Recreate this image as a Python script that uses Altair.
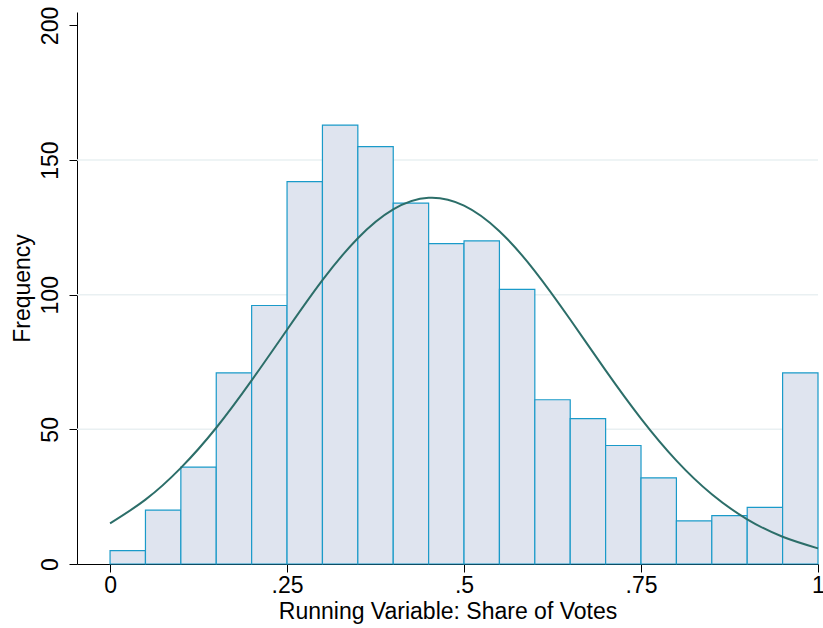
import altair as alt
import pandas as pd

# Histogram bins (width 0.05) and frequencies
bin_start = [0.00, 0.05, 0.10, 0.15, 0.20, 0.25, 0.30, 0.35, 0.40, 0.45,
             0.50, 0.55, 0.60, 0.65, 0.70, 0.75, 0.80, 0.85, 0.90, 0.95]
freq = [5, 20, 36, 71, 96, 142, 163, 155, 134, 119,
        120, 102, 61, 54, 44, 32, 16, 18, 21, 71]

# Normal-density overlay, points
curve_x = [0.00, 0.05, 0.10, 0.15, 0.20, 0.25, 0.30, 0.35, 0.40, 0.45, 0.50,
           0.55, 0.60, 0.65, 0.70, 0.75, 0.80, 0.85, 0.90, 0.95, 1.00]
curve_y = [15.1, 23.9, 35.7, 50.6, 68.2, 87.0, 105.4, 121.0, 131.7, 136.0, 133.1,
           123.6, 108.8, 90.8, 71.9, 54.0, 38.4, 25.9, 16.6, 10.1, 5.8]

grid_vals = [50, 100, 150]
y_ticks = [0, 50, 100, 150, 200]
x_ticks = [0, 0.25, 0.5, 0.75, 1]

bars_df = pd.DataFrame({"start": bin_start,
                        "end": [s + 0.05 for s in bin_start],
                        "freq": freq})
curve_df = pd.DataFrame({"x": curve_x, "y": curve_y})
grid_df = pd.DataFrame({"g": grid_vals})

FONT = "Liberation Sans"
FS = 23
xscale = alt.Scale(domain=[-0.0467, 1.0], nice=False, zero=False)
yscale = alt.Scale(domain=[0, 205], nice=False, zero=True)

grid = alt.Chart(grid_df).mark_rule(color="#e9f0f2", strokeWidth=1.5).encode(
    y=alt.Y("g:Q", scale=yscale)
)

bars = alt.Chart(bars_df).mark_rect(
    fill="#dfe4ef", stroke="#1a9ac9", strokeWidth=1.2
).encode(
    x=alt.X("start:Q", scale=xscale,
            axis=alt.Axis(values=x_ticks,
                          labelExpr="datum.value == 0 ? '0' : datum.value == 1 ? '1' : replace(format(datum.value, '.2~f'), '0.', '.')",
                          title="Running Variable: Share of Votes",
                          labelFontSize=FS, titleFontSize=FS,
                          labelFont=FONT, titleFont=FONT,
                          labelColor="black", titleColor="black",
                          titleFontWeight="normal",
                          tickSize=8, tickColor="black", domainColor="black",
                          labelPadding=2, titlePadding=3, grid=False,
                          labelFlush=False)),
    x2="end:Q",
    y=alt.Y("freq:Q", scale=yscale,
            axis=alt.Axis(values=y_ticks, title="Frequency",
                          labelAngle=270, labelAlign="center",
                          labelBaseline="bottom",
                          labelFontSize=FS, titleFontSize=FS,
                          labelFont=FONT, titleFont=FONT,
                          labelColor="black", titleColor="black",
                          titleFontWeight="normal",
                          tickSize=8, tickColor="black", domainColor="black",
                          labelPadding=7, titlePadding=5, grid=False)),
    y2=alt.datum(0),
)

curve = alt.Chart(curve_df).mark_line(
    color="#2c6e69", strokeWidth=2, interpolate="natural"
).encode(
    x=alt.X("x:Q", scale=xscale),
    y=alt.Y("y:Q", scale=yscale),
)

chart = alt.layer(grid, bars, curve).properties(
    width=741, height=552,
    autosize=alt.AutoSizeParams(type="none"),
    padding={"left": 77, "top": 12, "right": 5, "bottom": 64},
    background="white",
).configure_view(stroke=None)

chart.save("out.html", embed_options={"renderer": "svg", "actions": False})
